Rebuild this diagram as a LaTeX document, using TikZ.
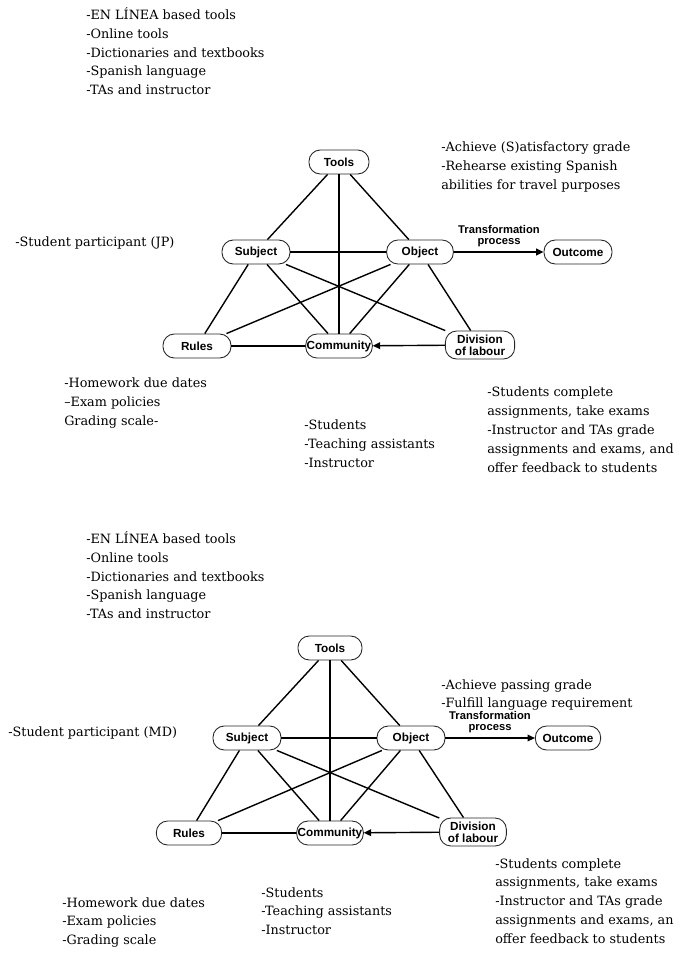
\documentclass[tikz,border=0pt]{standalone}
\usepackage{fontspec}
\setmainfont{DejaVu Serif}
\newfontfamily\labfont{Liberation Sans}
\usetikzlibrary{arrows.meta}
\begin{document}
\begin{tikzpicture}[x=0.75pt,y=-0.75pt,
  act/.style={draw=black!85, line width=0.65pt, rounded corners=8.5pt, fill=white,
    inner sep=0pt, minimum height=18pt, align=center,
    font=\labfont\bfseries\fontsize{8.8}{8.8}\selectfont},
  txt/.style={anchor=north west, align=left, inner sep=0pt,
    font=\fontsize{9.6}{14.2}\selectfont},
  lbl/.style={anchor=west, inner sep=0pt, font=\fontsize{9.6}{14.2}\selectfont},
  link/.style={line width=1.05pt, black},
  trans/.style={inner sep=0pt, align=center,
    font=\labfont\bfseries\fontsize{8.4}{8.6}\selectfont},
  tip/.style={-{Triangle[length=5.5pt,width=5pt]}}
]
\useasboundingbox[fill=white] (0,0) rectangle (682,960);

% ---------------- top diagram ----------------
\node[act, minimum width=45pt] (tools) at (339,162) {Tools};
\node[act, minimum width=51pt] (subj) at (256,252) {Subject};
\node[act, minimum width=50pt] (obj) at (420,252) {Object};
\node[act, minimum width=51pt] (out) at (578,252) {Outcome};
\node[act, minimum width=51pt] (rules) at (197,346) {Rules};
\node[act, minimum width=50pt] (comm) at (339,346) {Community};
\node[act, minimum width=52pt, minimum height=21pt] (div) at (480,345) {Division\\of labour};

\draw[link] (tools) -- (subj);
\draw[link] (tools) -- (obj);
\draw[link] (tools.south) -- (comm.north);
\draw[link] (subj) -- (obj);
\draw[link] (subj) -- (rules);
\draw[link] (subj) -- (comm);
\draw[link] (subj) -- (div);
\draw[link] (obj) -- (rules);
\draw[link] (obj) -- (comm);
\draw[link] (obj) -- (div);
\draw[link] (rules) -- (comm);
\draw[link, tip] (div) -- (comm);
\draw[link, tip] (obj) -- (out);
\node[trans] (tp) at (499,236) {Transformation\\process};

\node[txt] (tooltxt) at (86,7) {-EN LÍNEA based tools\\-Online tools\\-Dictionaries and textbooks\\-Spanish language\\-TAs and instructor};
\node[txt] (goaltxt) at (441,142) {-Achieve (S)atisfactory grade\\-Rehearse existing Spanish\\abilities for travel purposes};
\node[lbl] (subjtxt) at (15,243) {-Student participant (JP)};
\node[txt] (rulestxt) at (64,378) {-Homework due dates\\--Exam policies\\Grading scale-};
\node[txt] (commtxt) at (304,420) {-Students\\-Teaching assistants\\-Instructor};
\node[txt] (divtxt) at (487,387) {-Students complete\\assignments, take exams\\-Instructor and TAs grade\\assignments and exams, and\\offer feedback to students};

% ---------------- bottom diagram ----------------
\node[act, minimum width=48pt] (tools2) at (330,648) {Tools};
\node[act, minimum width=51pt] (subj2) at (247,738) {Subject};
\node[act, minimum width=51pt] (obj2) at (411,738) {Object};
\node[act, minimum width=49pt] (out2) at (568,738) {Outcome};
\node[act, minimum width=49pt] (rules2) at (189,833) {Rules};
\node[act, minimum width=50pt] (comm2) at (330,833) {Community};
\node[act, minimum width=50pt, minimum height=21pt] (div2) at (473,832) {Division\\of labour};

\draw[link] (tools2) -- (subj2);
\draw[link] (tools2) -- (obj2);
\draw[link] (tools2.south) -- (comm2.north);
\draw[link] (subj2) -- (obj2);
\draw[link] (subj2) -- (rules2);
\draw[link] (subj2) -- (comm2);
\draw[link] (subj2) -- (div2);
\draw[link] (obj2) -- (rules2);
\draw[link] (obj2) -- (comm2);
\draw[link] (obj2) -- (div2);
\draw[link] (rules2) -- (comm2);
\draw[link, tip] (div2) -- (comm2);
\draw[link, tip] (obj2) -- (out2);
\node[trans] (tp2) at (490,722) {Transformation\\process};

\node[txt] (tooltxt2) at (86,531) {-EN LÍNEA based tools\\-Online tools\\-Dictionaries and textbooks\\-Spanish language\\-TAs and instructor};
\node[txt] (goaltxt2) at (441,679) {-Achieve passing grade\\-Fulfill language requirement};
\node[lbl] (subjtxt2) at (8,733) {-Student participant (MD)};
\node[txt] (rulestxt2) at (62,897) {-Homework due dates\\-Exam policies\\-Grading scale};
\node[txt] (commtxt2) at (261,887) {-Students\\-Teaching assistants\\-Instructor};
\node[txt] (divtxt2) at (495,858) {-Students complete\\assignments, take exams\\-Instructor and TAs grade\\assignments and exams, an\\offer feedback to students};
\end{tikzpicture}
\end{document}
